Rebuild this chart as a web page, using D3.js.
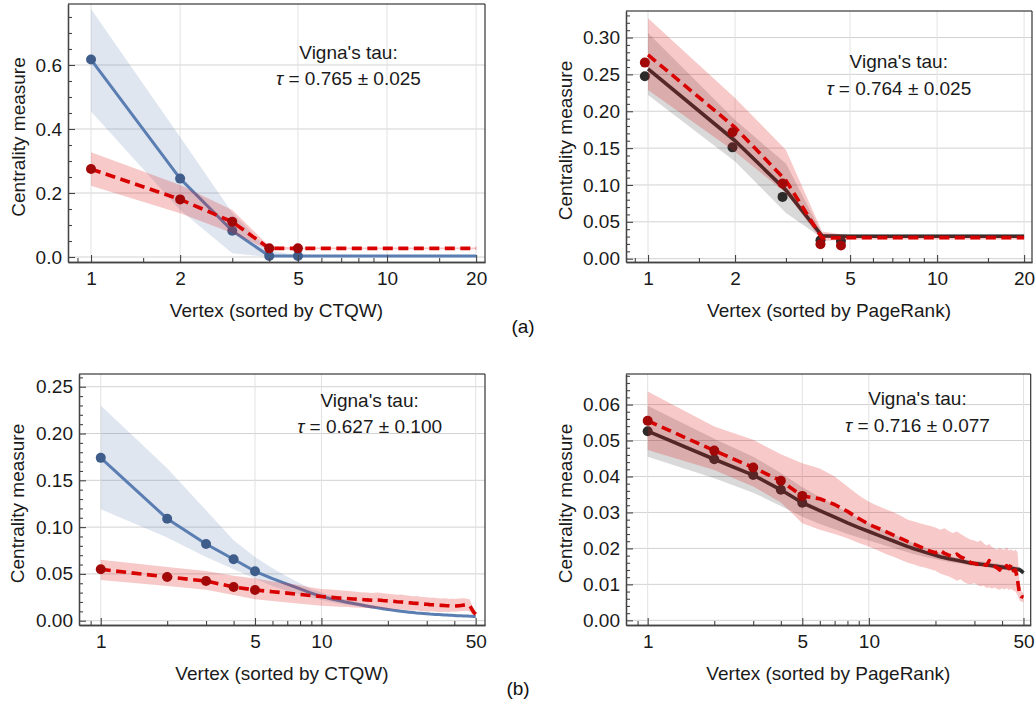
<!DOCTYPE html>
<html>
<head>
<meta charset="utf-8">
<script src="https://cdn.jsdelivr.net/npm/d3@7"></script>
<style>
  body { margin: 0; background: #fff; }
  svg { display: block; }
  text { font-family: "Liberation Sans", Arial, sans-serif; }
</style>
</head>
<body>
<svg id="chart" width="1036" height="709"></svg>
<script>
// ---------- axis ticks ----------
const xTicksA = [1, 2, 5, 10, 20];
const xMinorA = [0.9, 1.5, 3, 4, 6, 7, 8, 9, 15];
const xTicksB = [1, 5, 10, 50];
const xMinorB = [0.9, 2, 3, 4, 6, 7, 8, 9, 20, 30, 40];
const yTicksAL = [0, 0.2, 0.4, 0.6];
const yTicksAR = [0, 0.05, 0.10, 0.15, 0.20, 0.25, 0.30];
const yTicksBL = [0, 0.05, 0.10, 0.15, 0.20, 0.25];
const yTicksBR = [0, 0.01, 0.02, 0.03, 0.04, 0.05, 0.06];

// ---------- graph (a), vertices 1..20 ----------
// left: sorted by CTQW
const aLeftBlue   = [0.617, 0.245, 0.082, 0.003, 0.003, 0.003, 0.003, 0.003, 0.003, 0.003, 0.003, 0.003, 0.003, 0.003, 0.003, 0.003, 0.003, 0.003, 0.003, 0.003];
const aLeftBlueHi = [0.775, 0.375, 0.138, 0.020, 0.005, 0.005, 0.005, 0.005, 0.005, 0.005, 0.005, 0.005, 0.005, 0.005, 0.005, 0.005, 0.005, 0.005, 0.005, 0.005];
const aLeftBlueLo = [0.455, 0.147, 0.012, 0.000, 0.001, 0.001, 0.001, 0.001, 0.001, 0.001, 0.001, 0.001, 0.001, 0.001, 0.001, 0.001, 0.001, 0.001, 0.001, 0.001];
const aLeftRed    = [0.275, 0.180, 0.110, 0.027, 0.027, 0.027, 0.027, 0.027, 0.027, 0.027, 0.027, 0.027, 0.027, 0.027, 0.027, 0.027, 0.027, 0.027, 0.027, 0.027];
const aLeftRedHi  = [0.327, 0.225, 0.147, 0.034, 0.030, 0.030, 0.030, 0.030, 0.030, 0.030, 0.030, 0.030, 0.030, 0.030, 0.030, 0.030, 0.030, 0.030, 0.030, 0.030];
const aLeftRedLo  = [0.223, 0.137, 0.075, 0.021, 0.024, 0.024, 0.024, 0.024, 0.024, 0.024, 0.024, 0.024, 0.024, 0.024, 0.024, 0.024, 0.024, 0.024, 0.024, 0.024];
const aLeftDotX      = [1, 2, 3, 4, 5];
const aLeftBlueDots  = [0.617, 0.245, 0.082, 0.003, 0.003];
const aLeftRedDots   = [0.275, 0.180, 0.110, 0.027, 0.027];

// right: sorted by PageRank
const aRightDark   = [0.2575, 0.160, 0.093, 0.031, 0.0305, 0.0305, 0.0305, 0.0305, 0.0305, 0.0305, 0.0305, 0.0305, 0.0305, 0.0305, 0.0305, 0.0305, 0.0305, 0.0305, 0.0305, 0.0305];
const aRightDarkHi = [0.306, 0.188, 0.129, 0.034, 0.033, 0.033, 0.033, 0.033, 0.033, 0.033, 0.033, 0.033, 0.033, 0.033, 0.033, 0.033, 0.033, 0.033, 0.033, 0.033];
const aRightDarkLo = [0.222, 0.132, 0.062, 0.028, 0.028, 0.028, 0.028, 0.028, 0.028, 0.028, 0.028, 0.028, 0.028, 0.028, 0.028, 0.028, 0.028, 0.028, 0.028, 0.028];
const aRightRed    = [0.2765, 0.178, 0.106, 0.028, 0.0285, 0.0285, 0.0285, 0.0285, 0.0285, 0.0285, 0.0285, 0.0285, 0.0285, 0.0285, 0.0285, 0.0285, 0.0285, 0.0285, 0.0285, 0.0285];
const aRightRedHi  = [0.326, 0.218, 0.1475, 0.037, 0.031, 0.031, 0.031, 0.031, 0.031, 0.031, 0.031, 0.031, 0.031, 0.031, 0.031, 0.031, 0.031, 0.031, 0.031, 0.031];
const aRightRedLo  = [0.229, 0.145, 0.089, 0.024, 0.026, 0.026, 0.026, 0.026, 0.026, 0.026, 0.026, 0.026, 0.026, 0.026, 0.026, 0.026, 0.026, 0.026, 0.026, 0.026];
const aRightDotX     = [0.975, 1.96, 2.92, 3.95, 4.65];
const aRightDarkDots = [0.2476, 0.151, 0.0838, 0.025, 0.024];
const aRightRedDots  = [0.266, 0.1716, 0.102, 0.0195, 0.018];

// ---------- graph (b), vertices 1..50 ----------
// left: sorted by CTQW
const bLeftBlue = [0.174, 0.109, 0.082, 0.0656, 0.0528, 0.045, 0.039, 0.034, 0.0295, 0.026,
  0.0235, 0.0215, 0.0198, 0.0184, 0.0170, 0.0158, 0.0147, 0.0137, 0.0128, 0.0120,
  0.0113, 0.0107, 0.0101, 0.0096, 0.0091, 0.0087, 0.0083, 0.0080, 0.0077, 0.0074,
  0.0071, 0.0069, 0.0067, 0.0065, 0.0063, 0.0061, 0.0060, 0.0058, 0.0057, 0.0056,
  0.0054, 0.0053, 0.0052, 0.0051, 0.0050, 0.0049, 0.0048, 0.0047, 0.0046, 0.0045];
const bLeftBlueHi = [0.230, 0.163, 0.118, 0.086, 0.068, 0.056, 0.047, 0.040, 0.034, 0.030,
  0.027, 0.0245, 0.0225, 0.0207, 0.0191, 0.0177, 0.0165, 0.0154, 0.0144, 0.0135,
  0.0127, 0.0120, 0.0114, 0.0108, 0.0102, 0.0097, 0.0093, 0.0089, 0.0086, 0.0082,
  0.0079, 0.0077, 0.0074, 0.0072, 0.0070, 0.0068, 0.0066, 0.0064, 0.0063, 0.0061,
  0.0060, 0.0058, 0.0057, 0.0056, 0.0055, 0.0054, 0.0053, 0.0052, 0.0051, 0.0050];
const bLeftBlueLo = [0.119, 0.089, 0.068, 0.055, 0.045, 0.037, 0.032, 0.028, 0.025, 0.022,
  0.020, 0.0185, 0.0171, 0.0161, 0.0149, 0.0139, 0.0129, 0.0120, 0.0112, 0.0105,
  0.0099, 0.0094, 0.0088, 0.0084, 0.0080, 0.0077, 0.0073, 0.0071, 0.0068, 0.0066,
  0.0063, 0.0061, 0.0060, 0.0058, 0.0056, 0.0054, 0.0054, 0.0052, 0.0051, 0.0051,
  0.0048, 0.0048, 0.0047, 0.0046, 0.0045, 0.0044, 0.0043, 0.0042, 0.0041, 0.0040];
const bLeftRed = [0.0549, 0.0467, 0.0424, 0.0360, 0.0328, 0.0310, 0.0295, 0.0280, 0.0268, 0.0258,
  0.0250, 0.0243, 0.0238, 0.0232, 0.0228, 0.0222, 0.0218, 0.0222, 0.0215, 0.0212,
  0.0208, 0.0203, 0.0200, 0.0196, 0.0192, 0.0188, 0.0185, 0.0182, 0.0178, 0.0175,
  0.0172, 0.0170, 0.0168, 0.0166, 0.0164, 0.0162, 0.0160, 0.0159, 0.0158, 0.0157,
  0.0158, 0.0160, 0.0163, 0.0166, 0.0168, 0.0166, 0.0160, 0.0125, 0.0090, 0.0068];
const bLeftRedHi = [0.0650, 0.0575, 0.0530, 0.0480, 0.0450, 0.0420, 0.0400, 0.0380, 0.0355, 0.0340,
  0.0332, 0.0325, 0.0320, 0.0312, 0.0305, 0.0300, 0.0296, 0.0302, 0.0292, 0.0288,
  0.0282, 0.0278, 0.0281, 0.0272, 0.0266, 0.0262, 0.0265, 0.0256, 0.0252, 0.0250,
  0.0246, 0.0249, 0.0243, 0.0240, 0.0238, 0.0241, 0.0236, 0.0233, 0.0237, 0.0232,
  0.0235, 0.0238, 0.0236, 0.0240, 0.0237, 0.0233, 0.0228, 0.0170, 0.0115, 0.0085];
const bLeftRedLo = [0.0435, 0.0370, 0.0330, 0.0275, 0.0230, 0.0210, 0.0195, 0.0180, 0.0170, 0.0160,
  0.0155, 0.0150, 0.0147, 0.0142, 0.0139, 0.0135, 0.0132, 0.0137, 0.0128, 0.0125,
  0.0122, 0.0118, 0.0121, 0.0114, 0.0111, 0.0108, 0.0111, 0.0104, 0.0101, 0.0099,
  0.0097, 0.0100, 0.0095, 0.0093, 0.0092, 0.0095, 0.0092, 0.0093, 0.0097, 0.0095,
  0.0099, 0.0101, 0.0100, 0.0104, 0.0106, 0.0103, 0.0096, 0.0075, 0.0060, 0.0052];
const bLeftDotX     = [1, 2, 3, 4, 5];
const bLeftBlueDots = [0.174, 0.109, 0.082, 0.0656, 0.0528];
const bLeftRedDots  = [0.0549, 0.0467, 0.0424, 0.0360, 0.0328];

// right: sorted by PageRank
const bRightDark = [0.0526, 0.0448, 0.0404, 0.0363, 0.0327, 0.0305, 0.0287, 0.0271, 0.0258, 0.0247,
  0.0237, 0.0228, 0.0220, 0.0212, 0.0205, 0.0199, 0.0194, 0.0189, 0.0185, 0.0181,
  0.0177, 0.0174, 0.0171, 0.0169, 0.0167, 0.0165, 0.0163, 0.0161, 0.0159, 0.0158,
  0.0157, 0.0156, 0.0155, 0.0154, 0.0153, 0.0152, 0.0151, 0.0150, 0.0149, 0.0148,
  0.0147, 0.0146, 0.0145, 0.0145, 0.0144, 0.0143, 0.0142, 0.0141, 0.0137, 0.0132];
const bRightDarkHi = [0.0597, 0.0505, 0.0455, 0.0410, 0.0370, 0.0343, 0.0320, 0.0300, 0.0284, 0.0270,
  0.0258, 0.0247, 0.0238, 0.0229, 0.0221, 0.0214, 0.0208, 0.0202, 0.0197, 0.0192,
  0.0187, 0.0183, 0.0180, 0.0177, 0.0175, 0.0172, 0.0170, 0.0168, 0.0166, 0.0165,
  0.0165, 0.0164, 0.0163, 0.0162, 0.0161, 0.0160, 0.0159, 0.0158, 0.0157, 0.0156,
  0.0155, 0.0154, 0.0153, 0.0152, 0.0151, 0.0150, 0.0149, 0.0148, 0.0144, 0.0138];
const bRightDarkLo = [0.0455, 0.0395, 0.0355, 0.0318, 0.0288, 0.0268, 0.0253, 0.0240, 0.0230, 0.0222,
  0.0214, 0.0207, 0.0201, 0.0195, 0.0189, 0.0184, 0.0180, 0.0176, 0.0173, 0.0170,
  0.0167, 0.0165, 0.0162, 0.0161, 0.0159, 0.0158, 0.0156, 0.0154, 0.0152, 0.0151,
  0.0150, 0.0149, 0.0148, 0.0147, 0.0146, 0.0145, 0.0144, 0.0143, 0.0142, 0.0141,
  0.0140, 0.0139, 0.0138, 0.0138, 0.0137, 0.0136, 0.0135, 0.0134, 0.0130, 0.0126];
const bRightRed = [0.0555, 0.0472, 0.0425, 0.0388, 0.0346, 0.0338, 0.0322, 0.0303, 0.0283, 0.0267,
  0.0256, 0.0246, 0.0236, 0.0227, 0.0219, 0.0212, 0.0205, 0.0199, 0.0192, 0.0188,
  0.0195, 0.0186, 0.0181, 0.0178, 0.0184, 0.0176, 0.0172, 0.0166, 0.0160, 0.0158,
  0.0156, 0.0160, 0.0155, 0.0153, 0.0166, 0.0158, 0.0150, 0.0146, 0.0140, 0.0150,
  0.0146, 0.0152, 0.0144, 0.0156, 0.0138, 0.0140, 0.0112, 0.0072, 0.0066, 0.0064];
const bRightRedHi = [0.0636, 0.0539, 0.0502, 0.0462, 0.0437, 0.0422, 0.0400, 0.0372, 0.0348, 0.0330,
  0.0318, 0.0308, 0.0300, 0.0290, 0.0280, 0.0275, 0.0270, 0.0266, 0.0262, 0.0258,
  0.0252, 0.0256, 0.0248, 0.0243, 0.0247, 0.0240, 0.0234, 0.0228, 0.0224, 0.0222,
  0.0218, 0.0223, 0.0214, 0.0208, 0.0212, 0.0204, 0.0200, 0.0196, 0.0202, 0.0198,
  0.0196, 0.0203, 0.0194, 0.0198, 0.0192, 0.0196, 0.0190, 0.0105, 0.0080, 0.0075];
const bRightRedLo = [0.0474, 0.0418, 0.0372, 0.0328, 0.0270, 0.0252, 0.0240, 0.0228, 0.0215, 0.0205,
  0.0194, 0.0184, 0.0176, 0.0168, 0.0160, 0.0155, 0.0150, 0.0146, 0.0142, 0.0138,
  0.0130, 0.0126, 0.0122, 0.0116, 0.0110, 0.0114, 0.0106, 0.0102, 0.0100, 0.0104,
  0.0098, 0.0094, 0.0097, 0.0090, 0.0092, 0.0088, 0.0091, 0.0087, 0.0085, 0.0089,
  0.0086, 0.0090, 0.0084, 0.0088, 0.0082, 0.0080, 0.0070, 0.0055, 0.0052, 0.0050];
const bRightDotX     = [1, 2, 3, 4, 5];
const bRightDarkDots = [0.0526, 0.0448, 0.0404, 0.0363, 0.0327];
const bRightRedDots  = [0.0555, 0.0472, 0.0425, 0.0388, 0.0346];

// ---------- styles ----------
const BLUE = { band: "rgba(94,129,181,0.2)", line: "#5a7eb2", dot: "#3f5d8a", width: 3 };
const DARK = { band: "rgba(0,0,0,0.15)", line: "#2b2b2b", dot: "#2d2a2a", width: 3.6 };
const RED  = { band: "rgba(220,30,30,0.24)", line: "#d90000", dot: "#a30808", width: 3.6, dash: "10,5.5" };

const panels = [
  { id: "al", left: 68, right: 485, top: 4, bottom: 262,
    xDomain: [0.836, 21.43], yDomain: [-0.0156, 0.7906],
    xTicks: xTicksA, xMinor: xMinorA, yTicks: yTicksAL, yStep: 0.05, yFmt: ".1f",
    base: { style: BLUE, mean: aLeftBlue, hi: aLeftBlueHi, lo: aLeftBlueLo, dotX: aLeftDotX, dots: aLeftBlueDots },
    cmp:  { style: RED, mean: aLeftRed, hi: aLeftRedHi, lo: aLeftRedLo, dotX: aLeftDotX, dots: aLeftRedDots },
    xLabel: "Vertex (sorted by CTQW)", yLabelX: 24.5,
    tau: "0.765 ± 0.025", tauX: 348.5, tauY: 58.5 },
  { id: "ar", left: 626, right: 1032, top: 11, bottom: 262,
    xDomain: [0.839, 21.3], yDomain: [-0.0045, 0.336],
    xTicks: xTicksA, xMinor: xMinorA, yTicks: yTicksAR, yStep: 0.01, yFmt: ".2f",
    base: { style: DARK, mean: aRightDark, hi: aRightDarkHi, lo: aRightDarkLo, dotX: aRightDotX, dots: aRightDarkDots },
    cmp:  { style: RED, mean: aRightRed, hi: aRightRedHi, lo: aRightRedLo, dotX: aRightDotX, dots: aRightRedDots },
    xLabel: "Vertex (sorted by PageRank)", yLabelX: 571.5,
    tau: "0.764 ± 0.025", tauX: 898.8, tauY: 68.3 },
  { id: "bl", left: 79, right: 485, top: 374, bottom: 625,
    xDomain: [0.797, 55.1], yDomain: [-0.0046, 0.2636],
    xTicks: xTicksB, xMinor: xMinorB, yTicks: yTicksBL, yStep: 0.01, yFmt: ".2f",
    base: { style: BLUE, mean: bLeftBlue, hi: bLeftBlueHi, lo: bLeftBlueLo, dotX: bLeftDotX, dots: bLeftBlueDots },
    cmp:  { style: RED, mean: bLeftRed, hi: bLeftRedHi, lo: bLeftRedLo, dotX: bLeftDotX, dots: bLeftRedDots },
    xLabel: "Vertex (sorted by CTQW)", yLabelX: 24,
    tau: "0.627 ± 0.100", tauX: 369.6, tauY: 406.7 },
  { id: "br", left: 626, right: 1030.7, top: 374, bottom: 625,
    xDomain: [0.798, 53.9], yDomain: [-0.0013, 0.0685],
    xTicks: xTicksB, xMinor: xMinorB, yTicks: yTicksBR, yStep: 0.002, yFmt: ".2f",
    base: { style: DARK, mean: bRightDark, hi: bRightDarkHi, lo: bRightDarkLo, dotX: bRightDotX, dots: bRightDarkDots },
    cmp:  { style: RED, mean: bRightRed, hi: bRightRedHi, lo: bRightRedLo, dotX: bRightDotX, dots: bRightRedDots },
    xLabel: "Vertex (sorted by PageRank)", yLabelX: 572,
    tau: "0.716 ± 0.077", tauX: 917.5, tauY: 405 }
];

const svg = d3.select("#chart");
const FS = 19;

function styleAxis(sel) {
  sel.attr("font-family", null).attr("font-size", null);
  sel.select(".domain").attr("stroke", "#444").attr("stroke-width", 1.3);
  sel.selectAll(".tick line").attr("stroke", "#444").attr("stroke-width", 1.1);
  sel.selectAll(".tick text").attr("font-size", FS).attr("fill", "#1a1a1a");
}

function drawPanel(p) {
  const x = d3.scaleLog().domain(p.xDomain).range([p.left, p.right]);
  const y = d3.scaleLinear().domain(p.yDomain).range([p.bottom, p.top]);
  const g = svg.append("g").attr("class", "panel-" + p.id);

  svg.append("clipPath").attr("id", "clip-" + p.id)
    .append("rect").attr("x", p.left).attr("y", p.top)
    .attr("width", p.right - p.left).attr("height", p.bottom - p.top);

  // grid lines at the major ticks
  const grid = g.append("g");
  grid.selectAll("line.gh").data(p.yTicks).join("line").attr("class", "gh")
    .attr("x1", p.left).attr("x2", p.right)
    .attr("y1", d => y(d)).attr("y2", d => y(d))
    .attr("stroke", "#d2d2d2").attr("stroke-width", 1);
  grid.selectAll("line.gv").data(p.xTicks).join("line").attr("class", "gv")
    .attr("x1", d => x(d)).attr("x2", d => x(d))
    .attr("y1", p.top).attr("y2", p.bottom)
    .attr("stroke", "#e2e2e2").attr("stroke-width", 1);

  const plot = g.append("g").attr("clip-path", `url(#clip-${p.id})`);
  const band = s => d3.area()
    .x((d, i) => x(i + 1)).y0((d, i) => y(s.lo[i])).y1((d, i) => y(s.hi[i]))(s.hi);
  const line = s => d3.line().x((d, i) => x(i + 1)).y(d => y(d))(s.mean);

  // reference measure: band, line, markers
  plot.append("path").attr("d", band(p.base)).attr("fill", p.base.style.band);
  plot.append("path").attr("d", line(p.base)).attr("fill", "none")
    .attr("stroke", p.base.style.line).attr("stroke-width", p.base.style.width)
    .attr("stroke-linejoin", "round");
  plot.selectAll("circle.base").data(p.base.dots).join("circle").attr("class", "base")
    .attr("cx", (d, i) => x(p.base.dotX[i])).attr("cy", d => y(d)).attr("r", 5)
    .attr("fill", p.base.style.dot);

  // compared measure: band, dashed line, markers
  plot.append("path").attr("d", band(p.cmp)).attr("fill", p.cmp.style.band);
  plot.append("path").attr("d", line(p.cmp)).attr("fill", "none")
    .attr("stroke", p.cmp.style.line).attr("stroke-width", p.cmp.style.width)
    .attr("stroke-dasharray", p.cmp.style.dash).attr("stroke-linejoin", "round");
  plot.selectAll("circle.cmp").data(p.cmp.dots).join("circle").attr("class", "cmp")
    .attr("cx", (d, i) => x(p.cmp.dotX[i])).attr("cy", d => y(d)).attr("r", 5)
    .attr("fill", p.cmp.style.dot);

  // frame: top and right edges
  g.append("line").attr("x1", p.left).attr("x2", p.right).attr("y1", p.top).attr("y2", p.top)
    .attr("stroke", "#111").attr("stroke-width", 1.2);
  g.append("line").attr("x1", p.right).attr("x2", p.right).attr("y1", p.top).attr("y2", p.bottom)
    .attr("stroke", "#333").attr("stroke-width", 1.2);

  // minor ticks
  const yMinor = d3.range(0, p.yDomain[1], p.yStep)
    .filter(v => !p.yTicks.some(t => Math.abs(t - v) < p.yStep / 10));
  g.append("g").attr("transform", `translate(${p.left},0)`)
    .call(d3.axisLeft(y).tickValues(yMinor).tickSize(-4).tickSizeOuter(0).tickFormat(""))
    .call(styleAxis);
  g.append("g").attr("transform", `translate(0,${p.bottom})`)
    .call(d3.axisBottom(x).tickValues(p.xMinor).tickSize(-4).tickSizeOuter(0).tickFormat(""))
    .call(styleAxis);

  // major ticks with labels
  g.append("g").attr("transform", `translate(${p.left},0)`)
    .call(d3.axisLeft(y).tickValues(p.yTicks).tickSize(-7).tickSizeOuter(0)
      .tickPadding(6).tickFormat(d3.format(p.yFmt)))
    .call(styleAxis);
  g.append("g").attr("transform", `translate(0,${p.bottom})`)
    .call(d3.axisBottom(x).tickValues(p.xTicks).tickSize(-7).tickSizeOuter(0)
      .tickPadding(9.5).tickFormat(d3.format("d")))
    .call(styleAxis);

  // axis titles
  g.append("text").attr("x", (p.left + p.right) / 2).attr("y", p.bottom + 55)
    .attr("text-anchor", "middle").attr("font-size", FS).attr("fill", "#1a1a1a")
    .text(p.xLabel);
  g.append("text")
    .attr("transform", `translate(${p.yLabelX},${(p.top + p.bottom) / 2 + 4}) rotate(-90)`)
    .attr("text-anchor", "middle").attr("font-size", FS).attr("fill", "#1a1a1a")
    .text("Centrality measure");

  // rank correlation annotation
  g.append("text").attr("x", p.tauX).attr("y", p.tauY).attr("text-anchor", "middle")
    .attr("font-size", FS).attr("fill", "#1a1a1a").text("Vigna's tau:");
  const t = g.append("text").attr("x", p.tauX).attr("y", p.tauY + 26.5)
    .attr("text-anchor", "middle").attr("font-size", FS).attr("fill", "#1a1a1a");
  t.append("tspan").attr("font-style", "italic").text("τ");
  t.append("tspan").text(" = " + p.tau);
}

panels.forEach(drawPanel);

// sub-figure captions
svg.append("text").attr("x", 523).attr("y", 333).attr("text-anchor", "middle")
  .attr("font-family", "'Liberation Serif', 'DejaVu Serif', serif").attr("font-size", 19)
  .attr("fill", "#111").text("(a)");
svg.append("text").attr("x", 518).attr("y", 695).attr("text-anchor", "middle")
  .attr("font-family", "'Liberation Serif', 'DejaVu Serif', serif").attr("font-size", 19)
  .attr("fill", "#111").text("(b)");
</script>
</body>
</html>
